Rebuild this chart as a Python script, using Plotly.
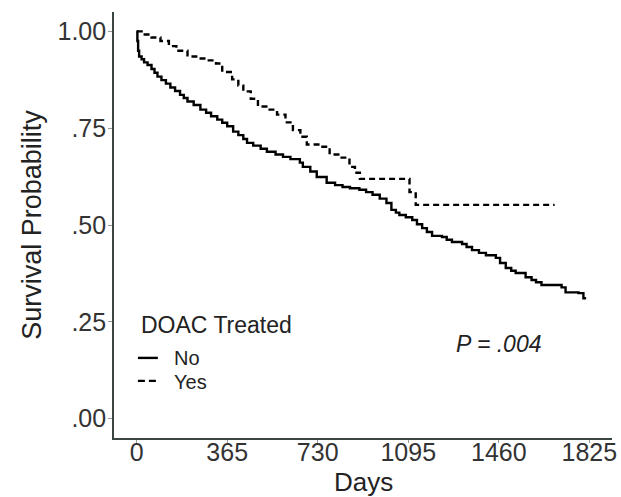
import plotly.graph_objects as go

# Kaplan-Meier step estimates by DOAC treatment group
days_no = [0, 3, 6, 10, 20, 30, 44, 60, 72, 84, 100, 118, 136, 155, 175, 190,
           205, 230, 257, 280, 300, 325, 345, 365, 389, 410, 430, 445, 470, 500,
           525, 560, 590, 620, 658, 670, 700, 726, 766, 800, 830, 860, 898, 925,
           951, 980, 1007, 1027, 1045, 1059, 1085, 1111, 1130, 1151, 1170, 1191,
           1231, 1250, 1271, 1312, 1330, 1352, 1380, 1408, 1448, 1465, 1488,
           1510, 1528, 1568, 1592, 1610, 1632, 1713, 1729, 1781, 1801, 1812]
surv_no = [1.000, 0.975, 0.950, 0.935, 0.928, 0.920, 0.913, 0.903, 0.893, 0.883,
           0.874, 0.865, 0.855, 0.846, 0.836, 0.828, 0.819, 0.810, 0.798, 0.790,
           0.781, 0.772, 0.764, 0.755, 0.741, 0.732, 0.722, 0.712, 0.705, 0.697,
           0.689, 0.682, 0.676, 0.670, 0.661, 0.650, 0.638, 0.624, 0.609, 0.603,
           0.598, 0.595, 0.591, 0.585, 0.578, 0.568, 0.557, 0.539, 0.532, 0.526,
           0.520, 0.513, 0.502, 0.492, 0.482, 0.472, 0.469, 0.462, 0.456, 0.451,
           0.443, 0.435, 0.428, 0.422, 0.415, 0.402, 0.389, 0.382, 0.376, 0.365,
           0.358, 0.352, 0.345, 0.339, 0.326, 0.324, 0.311, 0.311]

days_yes = [0, 20, 60, 96, 130, 160, 205, 240, 280, 320, 345, 385, 410, 430, 460,
            489, 530, 566, 600, 630, 660, 686, 738, 778, 818, 858, 880, 900,
            1100, 1125, 1685]
surv_yes = [1.000, 0.992, 0.984, 0.975, 0.962, 0.950, 0.935, 0.930, 0.925, 0.917,
            0.895, 0.876, 0.860, 0.845, 0.826, 0.806, 0.798, 0.785, 0.765, 0.745,
            0.728, 0.708, 0.702, 0.682, 0.674, 0.650, 0.635, 0.619, 0.585, 0.552,
            0.552]

x_ticks = [0, 365, 730, 1095, 1460, 1825]
y_ticks = [0, 0.25, 0.5, 0.75, 1.0]
y_tick_text = [".00", ".25", ".50", ".75", "1.00"]

x_title = "Days"
y_title = "Survival Probability"
legend_title = "DOAC Treated"
group_names = ["No", "Yes"]
p_label = "P = .004"

FONT = "Liberation Sans, Arial, Helvetica, sans-serif"
AXIS_COLOR = "#3c4640"
TEXT = "#222"
LINE_W = 2.4
DASH = "6px,4px"

fig = go.Figure()
fig.add_trace(go.Scatter(
    x=days_no, y=surv_no, mode="lines", name=group_names[0],
    line=dict(color="black", width=LINE_W, shape="hv"),
))
fig.add_trace(go.Scatter(
    x=days_yes, y=surv_yes, mode="lines", name=group_names[1],
    line=dict(color="black", width=LINE_W, shape="hv", dash=DASH),
))

# p-value label inside the panel
fig.add_annotation(
    x=1460, y=0.193, xref="x", yref="y", text="<i>" + p_label + "</i>",
    showarrow=False, font=dict(family=FONT, size=23, color=TEXT),
)

# x-axis title sits low, close to the bottom edge
fig.add_annotation(
    x=0.5, y=-0.104, xref="paper", yref="paper", text=x_title,
    xanchor="center", yanchor="middle", showarrow=False, borderpad=0,
    font=dict(family=FONT, size=26, color=TEXT),
)

# compact legend in the lower-left corner of the panel
fig.add_annotation(
    x=0.05, y=0.265, xref="paper", yref="paper", text=legend_title,
    xanchor="left", yanchor="middle", showarrow=False,
    font=dict(family=FONT, size=23, color=TEXT),
)
# (sample-line y, label y, dash pattern) per group
legend_rows = [(0.188, 0.188, None), (0.134, 0.1315, "7px,4px")]
for name, (line_y, text_y, dash) in zip(group_names, legend_rows):
    fig.add_shape(
        type="line", xref="paper", yref="paper",
        x0=0.048, x1=0.088, y0=line_y, y1=line_y,
        line=dict(color="black", width=LINE_W, dash=dash),
    )
    fig.add_annotation(
        x=0.119, y=text_y, xref="paper", yref="paper", text=name,
        xanchor="left", yanchor="middle", showarrow=False, borderpad=0,
        font=dict(family=FONT, size=20, color=TEXT),
    )

fig.update_layout(
    width=621, height=497,
    margin=dict(l=114, r=9, t=12, b=59),
    paper_bgcolor="white", plot_bgcolor="white",
    font=dict(family=FONT, color=TEXT),
    showlegend=False,
    xaxis=dict(
        range=[-91.25, 1916.25], tickvals=x_ticks,
        ticktext=[str(v) for v in x_ticks],
        showgrid=False, zeroline=False, automargin=False,
        showline=True, linecolor=AXIS_COLOR, linewidth=1.6,
        ticks="outside", ticklen=3, tickcolor="#999", tickwidth=1,
        ticklabelstandoff=-12,
        tickfont=dict(size=25, color="#333"),
    ),
    yaxis=dict(
        range=[-0.05, 1.05], tickvals=y_ticks, ticktext=y_tick_text,
        showgrid=False, zeroline=False, automargin=False,
        showline=True, linecolor=AXIS_COLOR, linewidth=1.6,
        ticks="outside", ticklen=4, tickcolor="#999", tickwidth=1,
        ticklabelstandoff=-3,
        tickfont=dict(size=25, color="#333"),
        title=dict(text=y_title, font=dict(size=27, color=TEXT), standoff=8),
    ),
)

fig.write_html("out.html")
